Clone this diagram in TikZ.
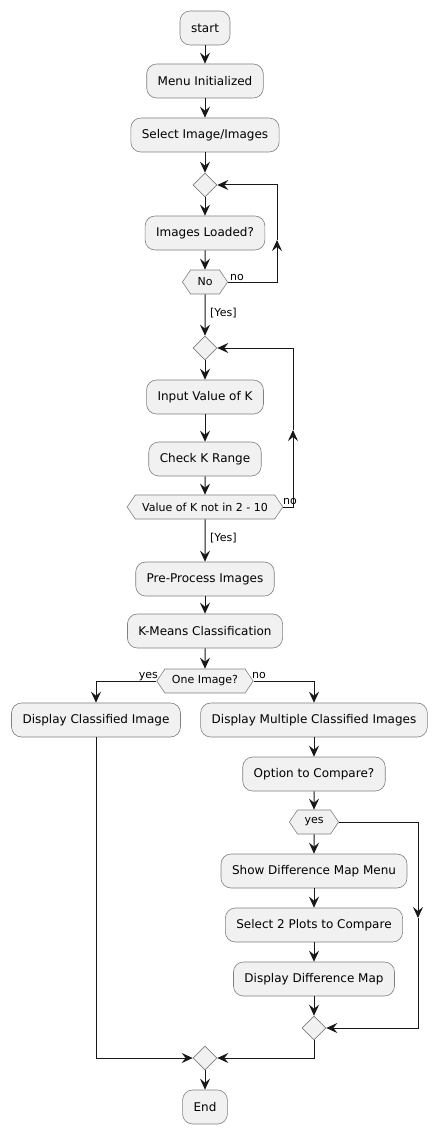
\documentclass[tikz,border=0pt]{standalone}
\usepackage{fontspec}
\setmainfont{DejaVu Sans}
\usetikzlibrary{arrows.meta,shapes.geometric,shapes.symbols}
\definecolor{boxfill}{HTML}{F1F1F1}
\definecolor{ln}{HTML}{181818}
\definecolor{bd}{HTML}{808080}
\begin{document}
\begin{tikzpicture}[x=1pt,y=-1pt,
 act/.style={draw=bd, fill=boxfill, rounded corners=10pt, line width=0.6pt, minimum height=34pt, inner xsep=11pt, font=\fontsize{12}{14}\selectfont},
 dia/.style={diamond, draw=bd, fill=boxfill, line width=0.6pt, minimum width=24pt, minimum height=24pt, inner sep=0pt},
 hex/.style={signal, signal to=west and east, signal pointer angle=112, draw=bd, fill=boxfill, line width=0.6pt, minimum height=24pt, inner xsep=7pt, inner ysep=0pt, font=\fontsize{11}{13}\selectfont},
 flow/.style={draw=ln, line width=1pt, -{Stealth[length=11pt,width=10pt,inset=4pt]}},
 lbl/.style={font=\fontsize{11}{13}\selectfont, inner sep=0pt}]
\fill[white] (0,0) rectangle (443,1134);
\useasboundingbox (0,0) rectangle (443,1134);

\node[act] (start) at (205,28) {start};
\node[act] (menu) at (205,81) {Menu Initialized};
\node[act] (sel) at (205,135) {Select Image/Images};
\node[dia] (d1) at (205,185) {};
\node[act] (loaded) at (205,233) {Images Loaded?};
\node[hex] (hno) at (205,282) {No};
\node[dia] (d2) at (205,348) {};
\node[act] (ink) at (205,397) {Input Value of K};
\node[act] (chk) at (205,459) {Check K Range};
\node[hex] (hk) at (205,507) {Value of K not in 2 - 10};
\node[act] (pre) at (205,579) {Pre-Process Images};
\node[act] (km) at (205,631) {K-Means Classification};
\node[hex] (hone) at (205,681) {One Image?};
\node[act] (dci) at (96,720) {Display Classified Image};
\node[act] (dmci) at (314,720) {Display Multiple Classified Images};
\node[act] (opt) at (314,774) {Option to Compare?};
\node[hex] (hyes) at (314,822) {yes};
\node[act] (sdm) at (314,871) {Show Difference Map Menu};
\node[act] (s2p) at (314,925) {Select 2 Plots to Compare};
\node[act] (ddm) at (314,979) {Display Difference Map};
\node[dia] (m1) at (314,1028) {};
\node[dia] (m2) at (205,1058) {};
\node[act] (endn) at (205,1107) {End};

\coordinate (c1) at (277,240);
\coordinate (c2) at (293,430);
\coordinate (c3) at (418,918);

\draw[flow] (start) -- (menu);
\draw[flow] (menu) -- (sel);
\draw[flow] (sel) -- (d1);
\draw[flow] (d1) -- (loaded);
\draw[flow] (loaded) -- (hno);
\draw[flow] (hno) -- (d2);
\draw[flow] (hno.east) -| (c1);
\draw[flow] (c1) |- (d1.east);
\draw[flow] (d2) -- (ink);
\draw[flow] (ink) -- (chk);
\draw[flow] (chk) -- (hk);
\draw[flow] (hk) -- (pre);
\draw[flow] (hk.east) -| (c2);
\draw[flow] (c2) |- (d2.east);
\draw[flow] (pre) -- (km);
\draw[flow] (km) -- (hone);
\draw[flow] (hone.west) -| (dci.north);
\draw[flow] (hone.east) -| (dmci.north);
\draw[flow] (dmci) -- (opt);
\draw[flow] (opt) -- (hyes);
\draw[flow] (hyes) -- (sdm);
\draw[flow] (sdm) -- (s2p);
\draw[flow] (s2p) -- (ddm);
\draw[flow] (ddm) -- (m1);
\draw[flow] (hyes.east) -| (c3);
\draw[flow] (c3) |- (m1.east);
\draw[flow] (dci.south) |- (m2.west);
\draw[flow] (m1.south) |- (m2.east);
\draw[flow] (m2) -- (endn);

\node[lbl, anchor=base west] (lno1) at (230,280) {no};
\node[lbl, anchor=base west] (lyes1) at (210,316) {[Yes]};
\node[lbl, anchor=base west] (lno2) at (283,504) {no};
\node[lbl, anchor=base west] (lyes2) at (210,541) {[Yes]};
\node[lbl, anchor=base east] (lyes3) at (158,678) {yes};
\node[lbl, anchor=base west] (lno3) at (252,678) {no};
\end{tikzpicture}
\end{document}
